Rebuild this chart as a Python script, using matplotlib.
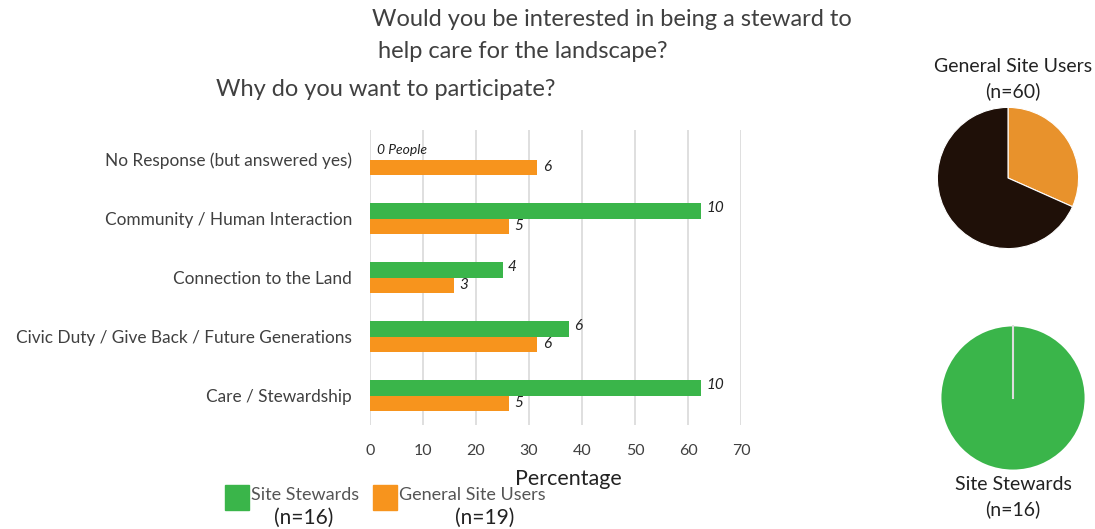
import matplotlib
matplotlib.use("Agg")
import matplotlib.pyplot as plt
from matplotlib.patches import Rectangle

plt.rcParams['font.family'] = ['Lato', 'DejaVu Sans']

categories = ["No Response (but answered yes)", "Community / Human Interaction",
              "Connection to the Land", "Civic Duty / Give Back / Future Generations",
              "Care / Stewardship"]
stewards_count = [0, 10, 4, 6, 10]
users_count = [6, 5, 3, 6, 5]
n_stewards = 16
n_users = 19
stewards_pct = [c / n_stewards * 100 for c in stewards_count]
users_pct = [c / n_users * 100 for c in users_count]

pie_users = [19, 41]      # interested / not, of 60 general site users
pie_stewards = [16]       # all 16 stewards

GREEN = "#3AB54A"
ORANGE = "#F7941D"
PIE_ORANGE = "#E8922C"
DARK = "#1F1008"
TXT = "#404040"

W, H = 1095, 529
fig = plt.figure(figsize=(W / 100, H / 100), dpi=100)

def box(x0, y0, x1, y1):
    # pixel box (top-left origin) -> figure fraction rect
    return [x0 / W, 1 - y1 / H, (x1 - x0) / W, (y1 - y0) / H]

# ---- bar chart ----
ax = fig.add_axes(box(370, 130, 741, 425))
y = list(range(len(categories)))
bh = 0.27
ax.barh([i - bh / 2 for i in y], stewards_pct, height=bh, color=GREEN, zorder=3)
ax.barh([i + bh / 2 for i in y], users_pct, height=bh, color=ORANGE, zorder=3)
for i in y:
    if stewards_count[i] > 0:
        ax.text(stewards_pct[i] + 1, i - bh / 2 - 0.05, str(stewards_count[i]), style="italic",
                fontsize=11, va="center", ha="left", color="#222")
    ax.text(users_pct[i] + 1, i + bh / 2, str(users_count[i]), style="italic",
            fontsize=11, va="center", ha="left", color="#222")
ax.text(1.3, 0 - bh / 2 - 0.02, "0 People", style="italic", fontsize=10,
        va="center", ha="left", color="#222")

ax.set_xlim(0, 70)
ax.set_ylim(len(categories) - 0.5, -0.5)
ax.set_xticks(range(0, 71, 10))
ax.set_yticks(y)
ax.set_yticklabels(categories, fontsize=12.4, color=TXT)
ax.tick_params(axis="y", length=0, pad=13)
ax.tick_params(axis="x", length=0, pad=14, labelsize=11.5, labelcolor=TXT)
ax.grid(axis="x", color="#D9D9D9", linewidth=1.2, zorder=0)
for s in ax.spines.values():
    s.set_visible(False)
ax.set_xlabel("Percentage", fontsize=15.5, color="#222", labelpad=0)
ax.xaxis.set_label_coords(0.535, -0.15)

# ---- titles ----
fig.text(612 / W, 1 - 20 / H, "Would you be interested in being a steward to",
         ha="center", va="center", fontsize=17, color=TXT)
fig.text(523 / W, 1 - 52 / H, "help care for the landscape?",
         ha="center", va="center", fontsize=17, color=TXT)
fig.text(386 / W, 1 - 90 / H, "Why do you want to participate?",
         ha="center", va="center", fontsize=17, color=TXT)

# ---- legend ----
for x0, col, lab, n, cx in [(225, GREEN, "Site Stewards", n_stewards, 304),
                            (373, ORANGE, "General Site Users", n_users, 485)]:
    fig.add_artist(Rectangle((x0 / W, 1 - 510 / H), 24 / W, 25 / H,
                             transform=fig.transFigure, color=col))
    fig.text((x0 + 26) / W, 1 - 495 / H, lab, ha="left", va="center",
             fontsize=13, color="#555")
    fig.text(cx / W, 1 - 518 / H, f"(n={n})", ha="center", va="center",
             fontsize=15, color="#222")

# ---- pies ----
pa = fig.add_axes(box(936, 106, 1080, 250))
pa.pie(pie_users, colors=[PIE_ORANGE, DARK], startangle=90, counterclock=False,
       wedgeprops=dict(edgecolor="white", linewidth=0.8))
pa.set_xlim(-1.02, 1.02)
pa.set_ylim(-1.02, 1.02)
pa.set_aspect("equal")
fig.text(1013 / W, 1 - 66 / H, "General Site Users", ha="center", va="center",
         fontsize=14, color="#222")
fig.text(1013 / W, 1 - 91 / H, f"(n={sum(pie_users)})", ha="center", va="center",
         fontsize=14, color="#222")

pb = fig.add_axes(box(940, 325, 1086, 471))
pb.pie(pie_stewards, colors=[GREEN], startangle=90, counterclock=False,
       wedgeprops=dict(edgecolor="none"))
pb.plot([0, 0], [0, 1], color="#DDDDDD", linewidth=1.5)
pb.set_xlim(-1.02, 1.02)
pb.set_ylim(-1.02, 1.02)
pb.set_aspect("equal")
fig.text(1013 / W, 1 - 484 / H, "Site Stewards", ha="center", va="center",
         fontsize=14, color="#222")
fig.text(1013 / W, 1 - 509 / H, f"(n={n_stewards})", ha="center", va="center",
         fontsize=14, color="#222")

fig.savefig("out.png", dpi=100)
